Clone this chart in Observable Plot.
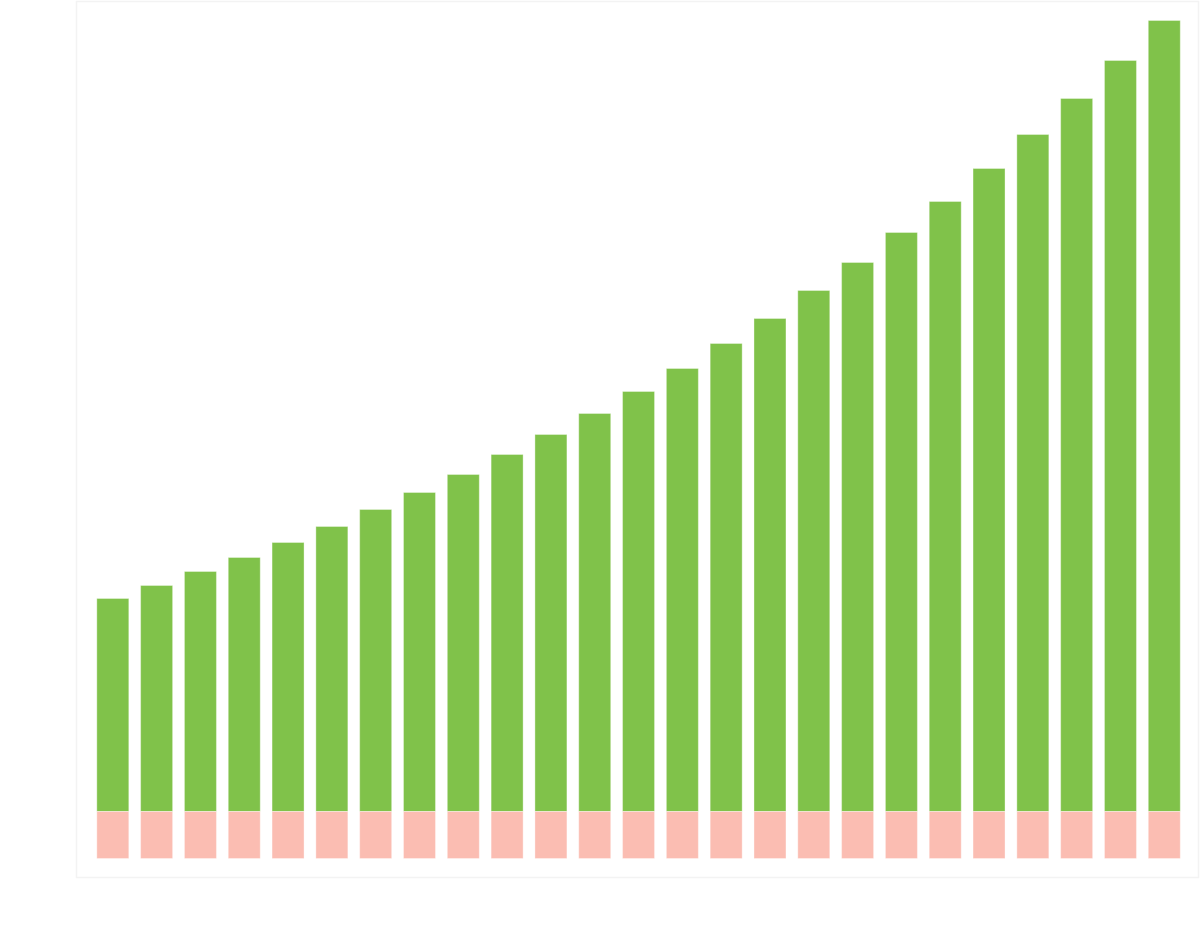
<!DOCTYPE html>
<html>
<head>
<meta charset="utf-8">
<script src="https://cdn.jsdelivr.net/npm/d3@7"></script>
<script src="https://cdn.jsdelivr.net/npm/@observablehq/plot@0.6"></script>
<style>
  html, body { margin: 0; padding: 0; background: #ffffff; }
  #chart svg { display: block; }
</style>
</head>
<body>
<div id="chart"></div>
<script>
const categories = Array.from({length: 25}, (_, i) => String(i + 1));
const positiveValues = [21.3, 22.6, 24.0, 25.4, 26.9, 28.5, 30.2, 31.9, 33.7, 35.7, 37.7, 39.8, 42.0, 44.3, 46.8, 49.3, 52.1, 54.9, 57.9, 61.0, 64.3, 67.7, 71.3, 75.1, 79.1];
const negativeValues = [-4.7, -4.7, -4.7, -4.7, -4.7, -4.7, -4.7, -4.7, -4.7, -4.7, -4.7, -4.7, -4.7, -4.7, -4.7, -4.7, -4.7, -4.7, -4.7, -4.7, -4.7, -4.7, -4.7, -4.7, -4.7];

const pos = categories.map((c, i) => ({cat: c, value: positiveValues[i]}));
const neg = categories.map((c, i) => ({cat: c, value: negativeValues[i]}));

const chart = Plot.plot({
  width: 1200,
  height: 951,
  marginTop: 1,
  marginBottom: 74,
  marginLeft: 76,
  marginRight: 2,
  x: {domain: categories, paddingInner: 0.27, paddingOuter: 0.44, align: 0.54, round: false, axis: null},
  y: {domain: [-6.55, 81.05], axis: null},
  marks: [
    Plot.frame({stroke: "#f3f3f3", strokeWidth: 1.5}),
    Plot.barY(pos, {x: "cat", y: "value", fill: "#80c24a", stroke: "white", strokeOpacity: 0.35, strokeWidth: 1}),
    Plot.barY(neg, {x: "cat", y: "value", fill: "#fbbdb2", stroke: "white", strokeOpacity: 0.35, strokeWidth: 1})
  ]
});
document.getElementById("chart").appendChild(chart);
</script>
</body>
</html>
